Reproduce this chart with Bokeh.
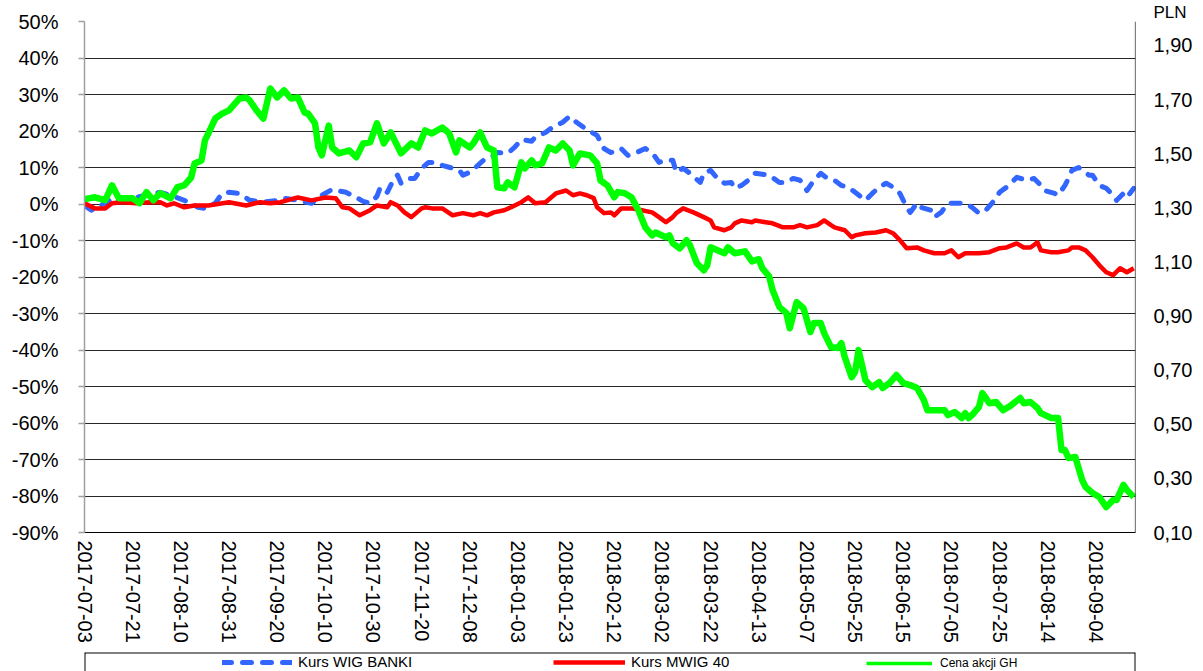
from bokeh.plotting import figure
from bokeh.layouts import column
from bokeh.models import (Range1d, LinearAxis, FixedTicker, CustomJSTickFormatter,
                          Legend, LegendItem, Span)
from bokeh.embed import file_html
from bokeh.resources import INLINE

# ---------------- data ----------------
# x = trading-day index since 2017-07-03
DATE_LABELS = ["2017-07-03", "2017-07-21", "2017-08-10", "2017-08-31", "2017-09-20",
               "2017-10-10", "2017-10-30", "2017-11-20", "2017-12-08", "2018-01-03",
               "2018-01-23", "2018-02-12", "2018-03-02", "2018-03-22", "2018-04-13",
               "2018-05-07", "2018-05-25", "2018-06-15", "2018-07-05", "2018-07-25",
               "2018-08-14", "2018-09-04"]
LABEL_STEP = 14          # trading days between date labels
LAST_DAY = 305           # last trading-day index in the series

PCT_TICKS = [-90, -80, -70, -60, -50, -40, -30, -20, -10, 0, 10, 20, 30, 40, 50]
PLN_TICKS = [0.10, 0.30, 0.50, 0.70, 0.90, 1.10, 1.30, 1.50, 1.70, 1.90]
SERIES_NAMES = ["Kurs WIG BANKI", "Kurs MWIG 40", "Cena akcji GH"]

# Kurs WIG BANKI (% change)
WIG_X = [0, 2, 4, 7, 8, 11, 15, 19, 22, 25,
         29, 33, 35, 38, 40, 42, 45, 48, 52, 56,
         58, 62, 66, 69, 72, 76, 79, 81, 83, 85,
         86, 88, 90, 91, 92, 94, 96, 98, 100, 102,
         104, 107, 109, 110, 112, 114, 116, 119, 120, 123,
         125, 127, 130, 131, 134, 136, 139, 141, 143, 146,
         149, 151, 153, 155, 156, 158, 160, 163, 165, 167,
         169, 171, 172, 174, 176, 179, 180, 182, 184, 186,
         188, 189, 191, 194, 195, 199, 202, 204, 206, 208,
         210, 212, 214, 216, 218, 220, 222, 224, 227, 229,
         231, 233, 235, 237, 239, 240, 242, 243, 246, 247,
         249, 251, 254, 256, 258, 260, 262, 264, 266, 268,
         271, 274, 276, 278, 279, 282, 283, 285, 286, 287,
         289, 292, 293, 295, 297, 299, 300, 302, 303, 305]
WIG_PCT = [-0.4, -1.7, -0.9, 1.0, 0.2, 1.3, 1.8, 2.7, 3.2, 2.4,
           1.0, -0.9, -1.2, 0.2, 2.9, 3.2, 2.9, 1.0, 0.5, 1.0,
           1.6, 1.0, 0.2, 2.4, 4.0, 3.2, 1.8, 0.7, 0.2, 2.1,
           4.6, 3.2, 7.0, 7.9, 5.7, 7.0, 7.0, 9.8, 11.4, 11.4,
           10.6, 9.8, 9.2, 7.9, 8.7, 10.3, 12.0, 13.3, 14.1, 13.9,
           15.5, 17.7, 17.2, 18.3, 19.6, 21.0, 22.4, 24.0, 22.4, 20.4,
           18.8, 15.2, 14.1, 14.7, 15.2, 13.3, 13.9, 15.2, 14.1, 11.4,
           12.0, 12.0, 8.7, 9.8, 8.4, 5.9, 8.4, 9.2, 7.0, 5.7,
           5.9, 4.3, 5.1, 7.3, 8.4, 7.9, 5.9, 5.9, 7.0, 6.5,
           3.7, 6.5, 8.4, 7.0, 6.5, 5.1, 4.6, 3.2, 1.0, 2.9,
           4.6, 5.7, 4.6, 2.9, -0.9, -2.3, 0.2, -0.9, -1.7, -3.6,
           -2.3, 0.2, 0.2, 0.2, -0.9, -2.5, -1.7, 0.5, 3.2, 4.6,
           7.3, 6.5, 7.0, 5.1, 3.7, 2.9, 2.4, 5.1, 7.0, 9.2,
           10.0, 7.9, 7.9, 5.1, 4.3, 2.4, 1.0, 2.9, 1.8, 4.3]

# Kurs MWIG 40 (% change)
MWIG_X = [0, 3, 6, 8, 11, 15, 19, 22, 24, 26,
          29, 32, 36, 42, 47, 51, 54, 57, 62, 66,
          70, 73, 75, 77, 80, 83, 85, 88, 89, 91,
          93, 95, 98, 99, 101, 104, 107, 110, 113, 115,
          117, 119, 122, 124, 127, 129, 131, 134, 137, 140,
          142, 144, 146, 148, 149, 151, 153, 154, 156, 159,
          162, 165, 167, 169, 171, 172, 174, 177, 180, 182,
          183, 186, 188, 189, 191, 194, 195, 198, 200, 203,
          206, 208, 210, 213, 215, 217, 218, 221, 223, 224,
          227, 230, 233, 235, 237, 239, 242, 244, 247, 250,
          252, 254, 256, 260, 263, 266, 268, 271, 273, 275,
          277, 278, 281, 283, 286, 287, 289, 291, 293, 295,
          297, 299, 301, 303, 305]
MWIG_PCT = [0.2, -1.2, -1.2, 0.2, 0.5, 0.2, 0.5, 0.5, -0.4, 0.2,
            -0.9, -0.4, -0.4, 0.5, -0.4, 0.5, 0.2, 0.5, 1.8, 1.0,
            1.8, 1.6, -0.9, -1.2, -3.1, -1.7, -0.4, -0.9, 0.5, -0.4,
            -2.3, -3.6, -1.2, -0.9, -1.2, -1.2, -3.1, -2.5, -3.1, -2.5,
            -3.1, -2.3, -1.7, -0.9, 0.5, 1.8, 0.2, 0.5, 2.9, 3.7,
            2.4, 2.9, 2.4, 1.6, -0.9, -2.5, -2.3, -3.1, -1.2, -1.2,
            -1.7, -2.3, -3.6, -5.0, -3.6, -2.5, -1.2, -2.3, -3.6, -4.5,
            -6.4, -7.2, -6.4, -5.3, -4.5, -5.0, -4.5, -5.0, -5.3, -6.4,
            -6.4, -5.8, -6.4, -5.8, -4.5, -5.8, -6.4, -7.2, -9.1, -8.6,
            -8.0, -7.8, -7.2, -8.0, -9.9, -12.1, -11.9, -12.7, -13.5, -13.5,
            -12.7, -14.6, -13.5, -13.5, -13.2, -12.1, -11.9, -10.8, -11.9, -11.9,
            -10.5, -12.7, -13.2, -13.2, -12.7, -11.9, -11.9, -12.7, -14.6, -16.8,
            -18.7, -19.5, -17.6, -18.7, -17.6]

# Cena akcji GH (PLN, right axis)
GH_X = [0, 3, 6, 8, 10, 14, 16, 18, 20, 22,
        25, 27, 29, 31, 32, 34, 35, 36, 38, 40,
        42, 45, 47, 48, 50, 52, 54, 56, 58, 60,
        62, 64, 65, 67, 68, 69, 71, 72, 74, 77,
        79, 81, 83, 85, 87, 89, 92, 95, 97, 99,
        101, 104, 106, 108, 109, 112, 113, 115, 117, 119,
        120, 122, 123, 125, 127, 128, 130, 131, 133, 135,
        137, 139, 141, 142, 144, 147, 149, 150, 152, 154,
        155, 157, 159, 161, 163, 165, 166, 169, 170, 171,
        173, 175, 176, 178, 180, 181, 182, 184, 186, 187,
        189, 192, 194, 196, 197, 199, 200, 202, 204, 205,
        207, 209, 211, 212, 214, 215, 217, 219, 220, 221,
        223, 224, 225, 226, 227, 229, 231, 232, 234, 236,
        238, 240, 242, 244, 245, 250, 251, 253, 255, 256,
        257, 258, 260, 261, 263, 265, 267, 269, 272, 273,
        275, 277, 278, 281, 283, 284, 285, 286, 288, 290,
        291, 293, 295, 297, 299, 300, 302, 303, 305]
GH_PLN = [1.332, 1.339, 1.328, 1.383, 1.335, 1.335, 1.317, 1.358, 1.328, 1.354,
          1.335, 1.376, 1.383, 1.412, 1.464, 1.475, 1.549, 1.575, 1.630, 1.648,
          1.660, 1.704, 1.708, 1.697, 1.660, 1.630, 1.741, 1.708, 1.734, 1.704,
          1.708, 1.652, 1.648, 1.612, 1.523, 1.494, 1.604, 1.523, 1.501, 1.512,
          1.487, 1.538, 1.542, 1.612, 1.538, 1.579, 1.501, 1.538, 1.523, 1.586,
          1.575, 1.597, 1.575, 1.505, 1.549, 1.523, 1.538, 1.579, 1.523, 1.512,
          1.376, 1.372, 1.394, 1.376, 1.468, 1.446, 1.475, 1.457, 1.464, 1.523,
          1.512, 1.538, 1.512, 1.457, 1.501, 1.494, 1.464, 1.401, 1.383, 1.339,
          1.358, 1.354, 1.339, 1.291, 1.228, 1.198, 1.209, 1.191, 1.198, 1.169,
          1.150, 1.180, 1.161, 1.095, 1.069, 1.087, 1.154, 1.143, 1.132, 1.154,
          1.132, 1.139, 1.102, 1.110, 1.077, 1.047, 0.996, 0.933, 0.911, 0.855,
          0.951, 0.929, 0.841, 0.874, 0.874, 0.837, 0.785, 0.782, 0.800, 0.748,
          0.674, 0.693, 0.774, 0.719, 0.663, 0.637, 0.656, 0.634, 0.652, 0.682,
          0.652, 0.645, 0.634, 0.589, 0.552, 0.552, 0.534, 0.545, 0.523, 0.541,
          0.523, 0.534, 0.564, 0.615, 0.578, 0.582, 0.552, 0.567, 0.597, 0.578,
          0.582, 0.560, 0.541, 0.523, 0.523, 0.405, 0.405, 0.375, 0.379, 0.294,
          0.268, 0.246, 0.231, 0.194, 0.220, 0.220, 0.276, 0.257, 0.231]

# ---------------- styles ----------------
FONT = "Liberation Sans"
W = 1203
NAN = float("nan")
BLUE, RED, GREEN = "#3366ff", "#ff0000", "#00ff00"
WIG_STYLE = dict(line_color=BLUE, line_width=5, line_dash="9 11", line_cap="round")
MWIG_STYLE = dict(line_color=RED, line_width=4.5, line_join="round")
GH_STYLE = dict(line_color=GREEN, line_width=6.5, line_join="round")

# ---------------- main chart ----------------
p = figure(width=W, height=651, output_backend="svg", toolbar_location=None,
           x_range=Range1d(0, LAST_DAY + 0.5), y_range=Range1d(-90, 50),
           min_border_left=77, min_border_right=68, min_border_top=21,
           min_border_bottom=119)
p.extra_y_ranges = {"pln": Range1d(0.10, 1.9886)}
p.outline_line_color = None
p.background_fill_color = "white"
p.border_fill_color = "white"

# unit caption of the right axis
p.title.text = "PLN"
p.title.align = "left"
p.title.offset = 1069
p.title.standoff = 0
p.title.vertical_align = "bottom"
p.title.text_font = FONT
p.title.text_font_size = "17px"
p.title.text_font_style = "normal"
p.title.text_color = "black"

# left (percent) axis
ya = p.yaxis[0]
ya.ticker = FixedTicker(ticks=PCT_TICKS)
ya.formatter = CustomJSTickFormatter(code="return tick.toFixed(0) + '%';")
ya.axis_line_color = "#a0a0a0"
ya.axis_line_width = 1.5
ya.major_tick_line_color = "#a0a0a0"
ya.major_tick_line_width = 1.5
ya.major_tick_in = 0
ya.major_tick_out = 6
ya.minor_tick_line_color = None
ya.major_label_standoff = 20
ya.major_label_text_font = FONT
ya.major_label_text_font_size = "20px"
ya.major_label_text_color = "black"

# bottom (date) axis
xa = p.xaxis[0]
xa.ticker = FixedTicker(ticks=[i * LABEL_STEP for i in range(len(DATE_LABELS))])
xa.major_label_overrides = {i * LABEL_STEP: lab for i, lab in enumerate(DATE_LABELS)}
xa.major_label_orientation = "vertical"
xa.axis_line_color = "black"
xa.axis_line_width = 1
xa.major_tick_line_color = None
xa.major_tick_in = 0
xa.major_tick_out = 0
xa.minor_tick_line_color = None
xa.major_label_standoff = 8
xa.major_label_text_font = FONT
xa.major_label_text_font_size = "20px"
xa.major_label_text_color = "black"

# right (PLN) axis
ra = LinearAxis(y_range_name="pln", ticker=FixedTicker(ticks=PLN_TICKS),
                formatter=CustomJSTickFormatter(code="return tick.toFixed(2).replace('.', ',');"))
ra.axis_line_color = None
ra.major_tick_line_color = None
ra.major_tick_in = 0
ra.major_tick_out = 0
ra.minor_tick_line_color = None
ra.major_label_standoff = 18
ra.major_label_text_font = FONT
ra.major_label_text_font_size = "20px"
ra.major_label_text_color = "black"
p.add_layout(ra, "right")

# grid
p.xgrid.grid_line_color = None
p.ygrid.ticker = FixedTicker(ticks=PCT_TICKS)
p.ygrid.grid_line_color = "#262626"
p.ygrid.grid_line_width = 1.2

# right border of plot area
p.add_layout(Span(location=p.x_range.end, dimension="height",
                  line_color="black", line_width=1.2))

# series
p.line(WIG_X, WIG_PCT, line_join="round", **WIG_STYLE)
p.line(MWIG_X, MWIG_PCT, **MWIG_STYLE)
p.line(GH_X, GH_PLN, y_range_name="pln", **GH_STYLE)

# ---------------- legend strip (boxed, open at the bottom) ----------------
lg = figure(width=W, height=20, output_backend="svg", toolbar_location=None,
            x_range=Range1d(0, 1), y_range=Range1d(0, 1),
            x_axis_type=None, y_axis_type=None,
            min_border_left=84, min_border_right=57, min_border_top=1,
            min_border_bottom=0)
lg.outline_line_color = None
lg.background_fill_color = "white"
lg.border_fill_color = "white"
for loc, dim in ((lg.x_range.start, "height"), (lg.x_range.end, "height"),
                 (lg.y_range.end, "width")):
    lg.add_layout(Span(location=loc, dimension=dim, line_color="black", line_width=2))

# legend swatch renderers (no drawable data, only their styles are used)
sw_wig = lg.line(x=[NAN], y=[NAN], **WIG_STYLE)
sw_mwig = lg.line(x=[NAN], y=[NAN], **MWIG_STYLE)
sw_gh = lg.line(x=[NAN], y=[NAN], line_color=GREEN, line_width=3.5)


def make_legend(name, renderer, loc, gw, standoff, size):
    return Legend(items=[LegendItem(label=name, renderers=[renderer])],
                  orientation="horizontal", location=loc,
                  glyph_width=gw, glyph_height=14, label_height=14,
                  label_standoff=standoff, padding=0, margin=0,
                  border_line_color=None, background_fill_alpha=0,
                  label_text_font=FONT, label_text_font_size=size,
                  label_text_color="black")


lg.add_layout(make_legend(SERIES_NAMES[0], sw_wig, (138, 1), 70, 6, "15px"))
lg.add_layout(make_legend(SERIES_NAMES[1], sw_mwig, (469, 1), 72, 6, "15px"))
lg.add_layout(make_legend(SERIES_NAMES[2], sw_gh, (782, 1), 66, 8, "12px"))

layout = column(p, lg, spacing=0)
open("out.html", "w").write(file_html(layout, INLINE))
